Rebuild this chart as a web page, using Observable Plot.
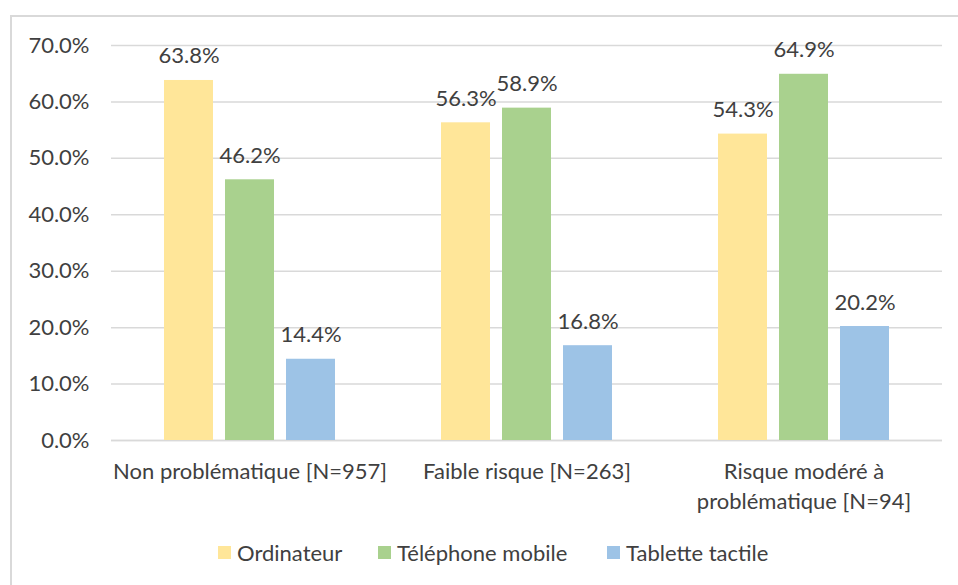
<!DOCTYPE html>
<html>
<head>
<meta charset="utf-8">
<script src="https://cdn.jsdelivr.net/npm/d3@7"></script>
<script src="https://cdn.jsdelivr.net/npm/@observablehq/plot@0.6"></script>
<style>
  html, body { margin: 0; padding: 0; background: #fff; overflow: hidden; width: 958px; height: 585px; }
  #frame { position: absolute; left: 10px; top: 15px; width: 980px; height: 620px; border: 2px solid #d9d9d9; box-sizing: border-box; }
  #chart { position: absolute; left: 0; top: 0; }
  #legend { position: absolute; left: 0; top: 539px; width: 958px; height: 26px; font-family: Lato, "Noto Sans", sans-serif; font-size: 22px; color: #404040; }
  .item { position: absolute; top: 0; height: 26px; display: flex; align-items: center; white-space: nowrap; }
  .sw { width: 13px; height: 13px; margin-right: 6px; display: inline-block; }
</style>
</head>
<body>
<div id="frame"></div>
<div id="chart"></div>
<div id="legend"></div>
<script>
const categories = ["Non problématique [N=957]", "Faible risque [N=263]", "Risque modéré à\nproblématique [N=94]"];
const series = ["Ordinateur", "Téléphone mobile", "Tablette tactile"];
const ordinateur = [0.638, 0.563, 0.543];
const telephone = [0.462, 0.589, 0.649];
const tablette = [0.144, 0.168, 0.202];
const colors = ["#FFE699", "#A9D18E", "#9DC3E6"];
const yTicks = [0, 0.1, 0.2, 0.3, 0.4, 0.5, 0.6, 0.7];

const seriesValues = [ordinateur, telephone, tablette];
const rows = [];
categories.forEach((c, i) => series.forEach((s, j) => rows.push({cat: c, series: s, value: seriesValues[j][i]})));
const pct = d => (d * 100).toFixed(1) + "%";

const plot = Plot.plot({
  width: 958,
  height: 520,
  marginTop: 45,
  marginBottom: 80,
  marginLeft: 110,
  marginRight: 16,
  style: {fontFamily: "Lato, 'Noto Sans', sans-serif", fontSize: "22px", color: "#404040", background: "transparent", overflow: "visible"},
  fx: {domain: categories, padding: 0, label: null},
  x: {domain: series, paddingInner: 0.2, paddingOuter: 0.85, axis: null},
  y: {domain: [0, 0.7], label: null},
  color: {domain: series, range: colors},
  marks: [
    Plot.gridY(yTicks, {stroke: "#d9d9d9", strokeOpacity: 1, strokeWidth: 1.5}),
    Plot.axisY(yTicks, {tickSize: 0, tickPadding: 22, tickFormat: pct, label: null, fontSize: 22, fill: "#404040"}),
    Plot.axisFx({anchor: "bottom", tickSize: 0, tickPadding: 17, label: null, fontSize: 22, lineHeight: 1.36, fill: "#404040"}),
    Plot.ruleY([0], {stroke: "#d9d9d9", strokeWidth: 1.5}),
    Plot.barY(rows, {fx: "cat", x: "series", y: "value", fill: "series"}),
    Plot.text(rows, {fx: "cat", x: "series", y: "value", text: d => pct(d.value), lineAnchor: "bottom", dy: -17, fill: "#404040", fontSize: 22})
  ]
});
document.getElementById("chart").appendChild(plot);

const legend = document.getElementById("legend");
const legendLeft = [218, 378, 607];
series.forEach((s, i) => {
  const it = document.createElement("div");
  it.className = "item";
  it.style.left = legendLeft[i] + "px";
  const sw = document.createElement("span");
  sw.className = "sw";
  sw.style.background = colors[i];
  it.appendChild(sw);
  it.appendChild(document.createTextNode(s));
  legend.appendChild(it);
});
</script>
</body>
</html>
